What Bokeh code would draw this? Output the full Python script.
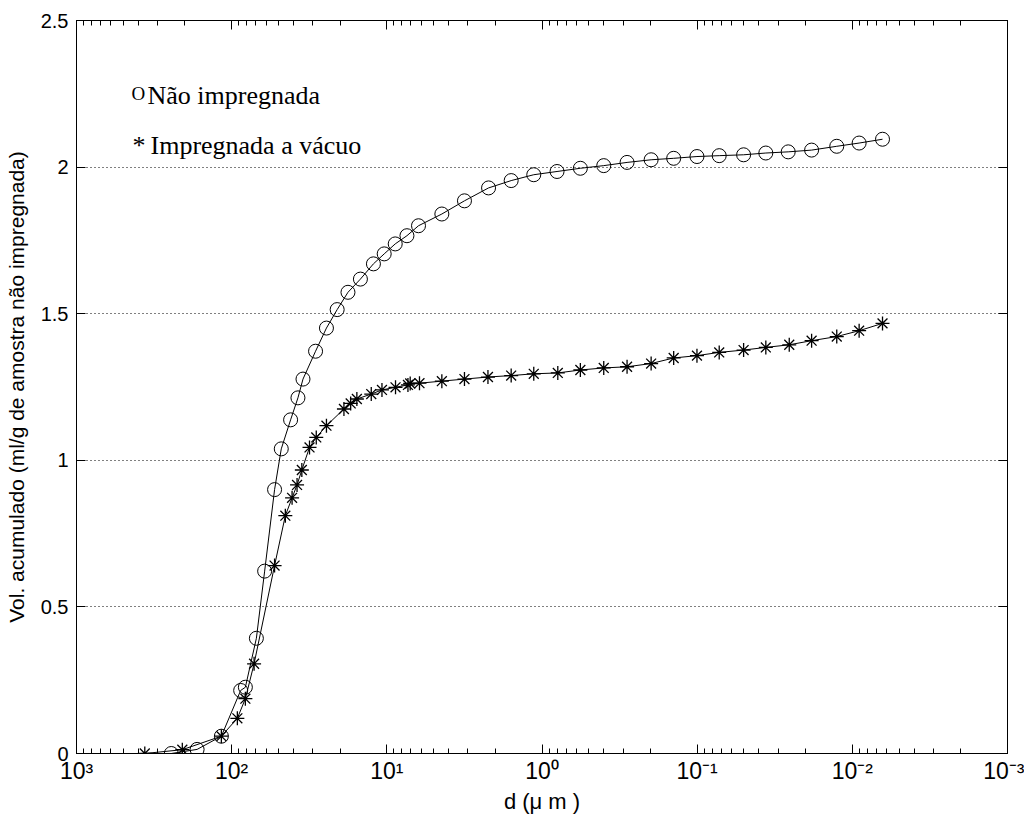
from bokeh.plotting import figure
from bokeh.models import (Range1d, LogAxis, LinearAxis, LogTicker, FixedTicker,
                          CustomJSTickFormatter, Label)
from bokeh.embed import file_html
from bokeh.resources import INLINE

# ---- data ----
d_nao = [245, 167, 116.5, 87.5, 81.6, 69.3, 61.3, 52.9, 47.9, 41.7,
         37.4, 34.7, 28.8, 24.5, 20.9, 17.8, 14.8, 12.2, 10.4, 8.83,
         7.42, 6.25, 4.42, 3.16, 2.21, 1.58, 1.13, 0.80, 0.566, 0.40,
         0.283, 0.198, 0.1417, 0.1003, 0.0721, 0.0502, 0.0361, 0.0259, 0.0183, 0.0126,
         0.00904, 0.00639]
v_nao = [0.0, 0.014, 0.059, 0.215, 0.226, 0.393, 0.622, 0.900, 1.039, 1.138,
         1.213, 1.277, 1.372, 1.451, 1.514, 1.573, 1.618, 1.670, 1.704, 1.738,
         1.766, 1.800, 1.840, 1.885, 1.929, 1.954, 1.974, 1.985, 1.996, 2.005,
         2.016, 2.025, 2.030, 2.036, 2.039, 2.042, 2.048, 2.052, 2.058, 2.071,
         2.082, 2.095]

d_vac = [363, 208, 116.5, 91.9, 81.6, 71.7, 52.9, 45.1, 40.8, 37.9,
         35.3, 31.5, 28.5, 24.5, 18.9, 17.1, 15.6, 12.6, 10.75, 8.79,
         7.31, 7.07, 6.16, 4.42, 3.16, 2.23, 1.58, 1.13, 0.791, 0.566,
         0.40, 0.283, 0.198, 0.1417, 0.1003, 0.0721, 0.0502, 0.0361, 0.0255, 0.0183,
         0.0126, 0.00904, 0.00639]
v_vac = [0.0, 0.013, 0.059, 0.12, 0.187, 0.306, 0.641, 0.811, 0.872, 0.916,
         0.967, 1.044, 1.078, 1.118, 1.175, 1.194, 1.209, 1.226, 1.240, 1.249,
         1.257, 1.262, 1.263, 1.270, 1.277, 1.284, 1.289, 1.295, 1.298, 1.308,
         1.315, 1.319, 1.330, 1.349, 1.357, 1.368, 1.376, 1.385, 1.394, 1.408,
         1.422, 1.442, 1.467]

y_ticks = [0, 0.5, 1, 1.5, 2, 2.5]
legend_nao = "Não impregnada"
legend_vac = "Impregnada a vácuo"
x_label = "d (μ m )"
y_label = "Vol. acumulado (ml/g de amostra não impregnada)"

SANS = "Liberation Sans"
SERIF = "Liberation Serif"

p = figure(width=1024, height=818, x_axis_type="log",
           x_range=Range1d(1e3, 1e-3), y_range=Range1d(0, 2.5),
           output_backend="svg", toolbar_location=None,
           min_border_left=76, min_border_right=17,
           min_border_top=20, min_border_bottom=65)
p.background_fill_color = "white"
p.border_fill_color = "white"
p.outline_line_color = "black"
p.outline_line_width = 1
p.outline_line_alpha = 1

sup_js = """
const sup = {"0":"\u2070","1":"\u00b9","2":"\u00b2","3":"\u00b3","-":"\u207b"};
const e = Math.round(Math.log10(tick));
return "10" + String(e).split("").map(c => sup[c]).join("");
"""

xa = p.xaxis[0]
xa.ticker = LogTicker(num_minor_ticks=10)
xa.formatter = CustomJSTickFormatter(code=sup_js)
xa.major_label_text_font = SANS
xa.major_label_text_font_size = "23px"
xa.major_label_text_color = "black"
xa.major_label_standoff = 4
xa.major_tick_in = 9
xa.major_tick_out = 0
xa.minor_tick_in = 5
xa.minor_tick_out = 0
xa.axis_line_color = "black"
xa.major_tick_line_color = "black"
xa.minor_tick_line_color = "black"
xa.axis_label = x_label
xa.axis_label_text_font = SANS
xa.axis_label_text_font_style = "normal"
xa.axis_label_text_font_size = "22px"
xa.axis_label_text_color = "black"
xa.axis_label_standoff = 2

ya = p.yaxis[0]
ya.ticker = FixedTicker(ticks=y_ticks)
ya.formatter = CustomJSTickFormatter(code="return String(tick);")
ya.major_label_text_font = SANS
ya.major_label_text_font_size = "20px"
ya.major_label_text_color = "black"
ya.major_label_standoff = 8
ya.major_tick_in = 9
ya.major_tick_out = 0
ya.minor_tick_line_color = None
ya.axis_line_color = "black"
ya.major_tick_line_color = "black"
ya.axis_label = y_label
ya.axis_label_text_font = SANS
ya.axis_label_text_font_style = "normal"
ya.axis_label_text_font_size = "21px"
ya.axis_label_text_color = "black"
ya.axis_label_standoff = 10

p.xgrid.visible = False
p.ygrid.ticker = FixedTicker(ticks=y_ticks)
p.ygrid.grid_line_color = "black"
p.ygrid.grid_line_dash = "1 3"
p.ygrid.grid_line_width = 1

top = LogAxis(ticker=LogTicker(num_minor_ticks=10),
              major_label_text_font_size="2px", major_label_text_color=None,
              major_label_standoff=0,
              major_tick_in=9, major_tick_out=0, minor_tick_in=5, minor_tick_out=0,
              axis_line_color="black", major_tick_line_color="black",
              minor_tick_line_color="black")
p.add_layout(top, "above")
right = LinearAxis(ticker=FixedTicker(ticks=y_ticks),
                   major_label_text_font_size="2px", major_label_text_color=None,
                   major_label_standoff=0,
                   major_tick_in=9, major_tick_out=0, minor_tick_line_color=None,
                   axis_line_color="black", major_tick_line_color="black")
p.add_layout(right, "right")

# series
p.line(d_nao, v_nao, line_color="black", line_width=1)
p.scatter(d_nao, v_nao, marker="circle", size=14, fill_color=None,
          line_color="black", line_width=1)
p.line(d_vac, v_vac, line_color="black", line_width=1)
p.scatter(d_vac, v_vac, marker="asterisk", size=14,
          line_color="black", line_width=1.3)

# text legend (screen units, relative to the plot frame)
for x, y, txt, fs in [(55, 660, "O", "19px"), (71, 658, legend_nao, "26px"),
                      (56, 608, "*", "26px"), (74, 608, legend_vac, "26px")]:
    p.add_layout(Label(x=x, y=y, x_units="screen", y_units="screen", text=txt,
                       text_font=SERIF, text_font_size=fs, text_color="black",
                       text_baseline="alphabetic", text_align="left"))

open("out.html", "w").write(file_html(p, INLINE))
